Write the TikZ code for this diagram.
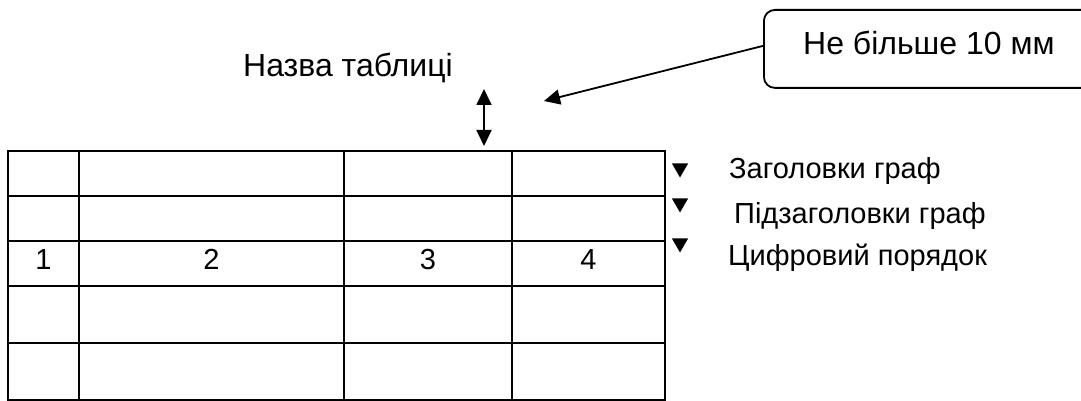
\documentclass[tikz,border=0pt]{standalone}
\usepackage{fontspec}
\setmainfont{Liberation Sans}
\usetikzlibrary{arrows.meta}
\usetikzlibrary{shapes.geometric}
\tikzset{
  caption/.style={font=\fontsize{29}{34}\selectfont, inner sep=0pt},
  heading/.style={font=\fontsize{32}{38}\selectfont, inner sep=0pt},
  grid line/.style={line width=2.7pt},
  marker/.style={regular polygon, regular polygon sides=3, shape border rotate=180,
    fill=black, draw=none, minimum size=19pt, inner sep=0pt},
  callout/.style={draw, line width=1.8pt, rounded corners=11pt, minimum width=330pt,
    minimum height=78pt, text depth=12pt, inner sep=0pt, font=\fontsize{32}{38}\selectfont},
  pointer/.style={line width=1.8pt, -{Triangle[length=16pt,width=15pt]}}
}

\begin{document}
\begin{tikzpicture}[x=1pt, y=-1pt]
		\useasboundingbox (0,0) rectangle (1081,401);
		\draw[grid line] (8,151) rectangle (665,400);
		\foreach \y in {196,241,286,343} \draw[grid line] (8,\y) -- (665,\y);
		\foreach \x in {79,344,512} \draw[grid line] (\x,151) -- (\x,400);
		%
		\node[caption, anchor=base] (col1) at (43.5,269) {1};
		\node[caption, anchor=base] (col2) at (211.5,269) {2};
		\node[caption, anchor=base] (col3) at (428,269) {3};
		\node[caption, anchor=base] (col4) at (588.5,269) {4};
		%
		\node[heading, anchor=base west] (title) at (243,77) {Назва таблиці};
		\coordinate (gaptop) at (484,89);
		\coordinate (gapbot) at (484,146);
		\draw[line width=1.8pt, {Triangle[length=16pt,width=15pt]}-{Triangle[length=16pt,width=15pt]}] (gaptop) -- (gapbot);
		%
		\node[callout, anchor=north west] (note) at (763,9) {Не більше 10 мм};
		\coordinate (gapmark) at (544,101);
		\draw[pointer] ([yshift=3pt]note.west) -- (gapmark);
		%
		\node[marker] (mark1) at (680,168) {};
		\node[marker] (mark2) at (680,203) {};
		\node[marker] (mark3) at (680,243) {};
		\node[caption, anchor=base west] (head) at (729,178) {Заголовки граф};
		\node[caption, anchor=base west] (subhead) at (734,223) {Підзаголовки граф};
		\node[caption, anchor=base west] (digits) at (728,265) {Цифровий порядок};
	\end{tikzpicture}
\end{document}
